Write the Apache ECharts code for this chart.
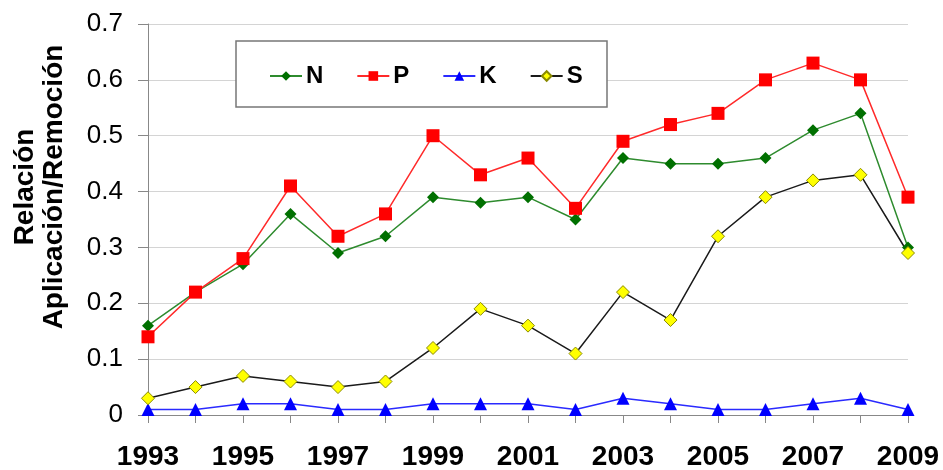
<!DOCTYPE html>
<html><head><meta charset="utf-8">
<script src="https://cdn.jsdelivr.net/npm/echarts@6/dist/echarts.min.js"></script>
<style>html,body{margin:0;padding:0;background:#fff}#c{width:943px;height:470px}</style>
</head><body><div id="c"></div>
<script>
const years = ['1993','1994','1995','1996','1997','1998','1999','2000','2001','2002','2003','2004','2005','2006','2007','2008','2009'];
const N = [0.16,0.22,0.27,0.36,0.29,0.32,0.39,0.38,0.39,0.35,0.46,0.45,0.45,0.46,0.51,0.54,0.30];
const P = [0.14,0.22,0.28,0.41,0.32,0.36,0.50,0.43,0.46,0.37,0.49,0.52,0.54,0.60,0.63,0.60,0.39];
const K = [0.01,0.01,0.02,0.02,0.01,0.01,0.02,0.02,0.02,0.01,0.03,0.02,0.01,0.01,0.02,0.03,0.01];
const S = [0.03,0.05,0.07,0.06,0.05,0.06,0.12,0.19,0.16,0.11,0.22,0.17,0.32,0.39,0.42,0.43,0.29];
const yTitle = 'Relación\nAplicación/Remoción';

const chart = echarts.init(document.getElementById('c'), null, {renderer:'canvas'});
const font = 'Arial, "Liberation Sans", sans-serif';
function ser(name, data, lineColor, symbol, size, fill, border){
  return {name, type:'line', data, symbol, symbolSize:size,
    lineStyle:{color:lineColor, width:1.5},
    itemStyle:{color:fill, borderColor:border, borderWidth: border===fill?0:1},
    emphasis:{disabled:true}, z: 3};
}
chart.setOption({
  animation:false,
  grid:{left:148, right:35, top:24, bottom:55, containLabel:false, outerBoundsMode:'none'},
  graphic:[
    {type:'rect', shape:{x:236, y:41, width:371, height:66},
      style:{fill:'#fff', stroke:'#777', lineWidth:1.5}, z:10},
    {type:'text', x:40, y:187, rotation:Math.PI/2, z:10,
      style:{text:yTitle, font:'bold 28px ' + font, fill:'#000', lineHeight:29,
        align:'center', verticalAlign:'middle'}}
  ],
  legend:{left:264, top:59, padding:5, itemGap:33, itemWidth:32, itemHeight:12, z:20,
    textStyle:{fontFamily:font, fontSize:24, fontWeight:'bold', color:'#000', padding:[0,0,0,-1]},
    data:['N','P','K','S']},
  xAxis:{type:'category', data:years, boundaryGap:false,
    axisLine:{lineStyle:{color:'#888'}},
    axisTick:{show:true, alignWithLabel:true, interval:0, length:8, lineStyle:{color:'#888'}},
    axisLabel:{interval:1, margin:28, fontFamily:font, fontSize:28, fontWeight:'bold', color:'#000'},
    splitLine:{show:false}},
  yAxis:{type:'value', min:0, max:0.7, interval:0.1,
    axisLine:{show:true, lineStyle:{color:'#888'}},
    axisTick:{show:true, length:10, lineStyle:{color:'#888'}},
    axisLabel:{margin:25, fontFamily:font, fontSize:26, color:'#000',
      formatter:v=> v===0?'0':v.toFixed(1)},
    splitLine:{lineStyle:{color:'#d4d4d4', width:1}}},
  series:[
    ser('N', N, '#2e8b2e', 'diamond', 12, '#007000', '#007000'),
    ser('P', P, '#ff2a2a', 'rect', 13, '#ff0000', '#ff0000'),
    ser('K', K, '#2a2aff', 'triangle', 13, '#0000ff', '#0000ff'),
    ser('S', S, '#1a1a1a', 'diamond', 13, '#ffff00', '#8a8a00')
  ]
});
</script></body></html>
